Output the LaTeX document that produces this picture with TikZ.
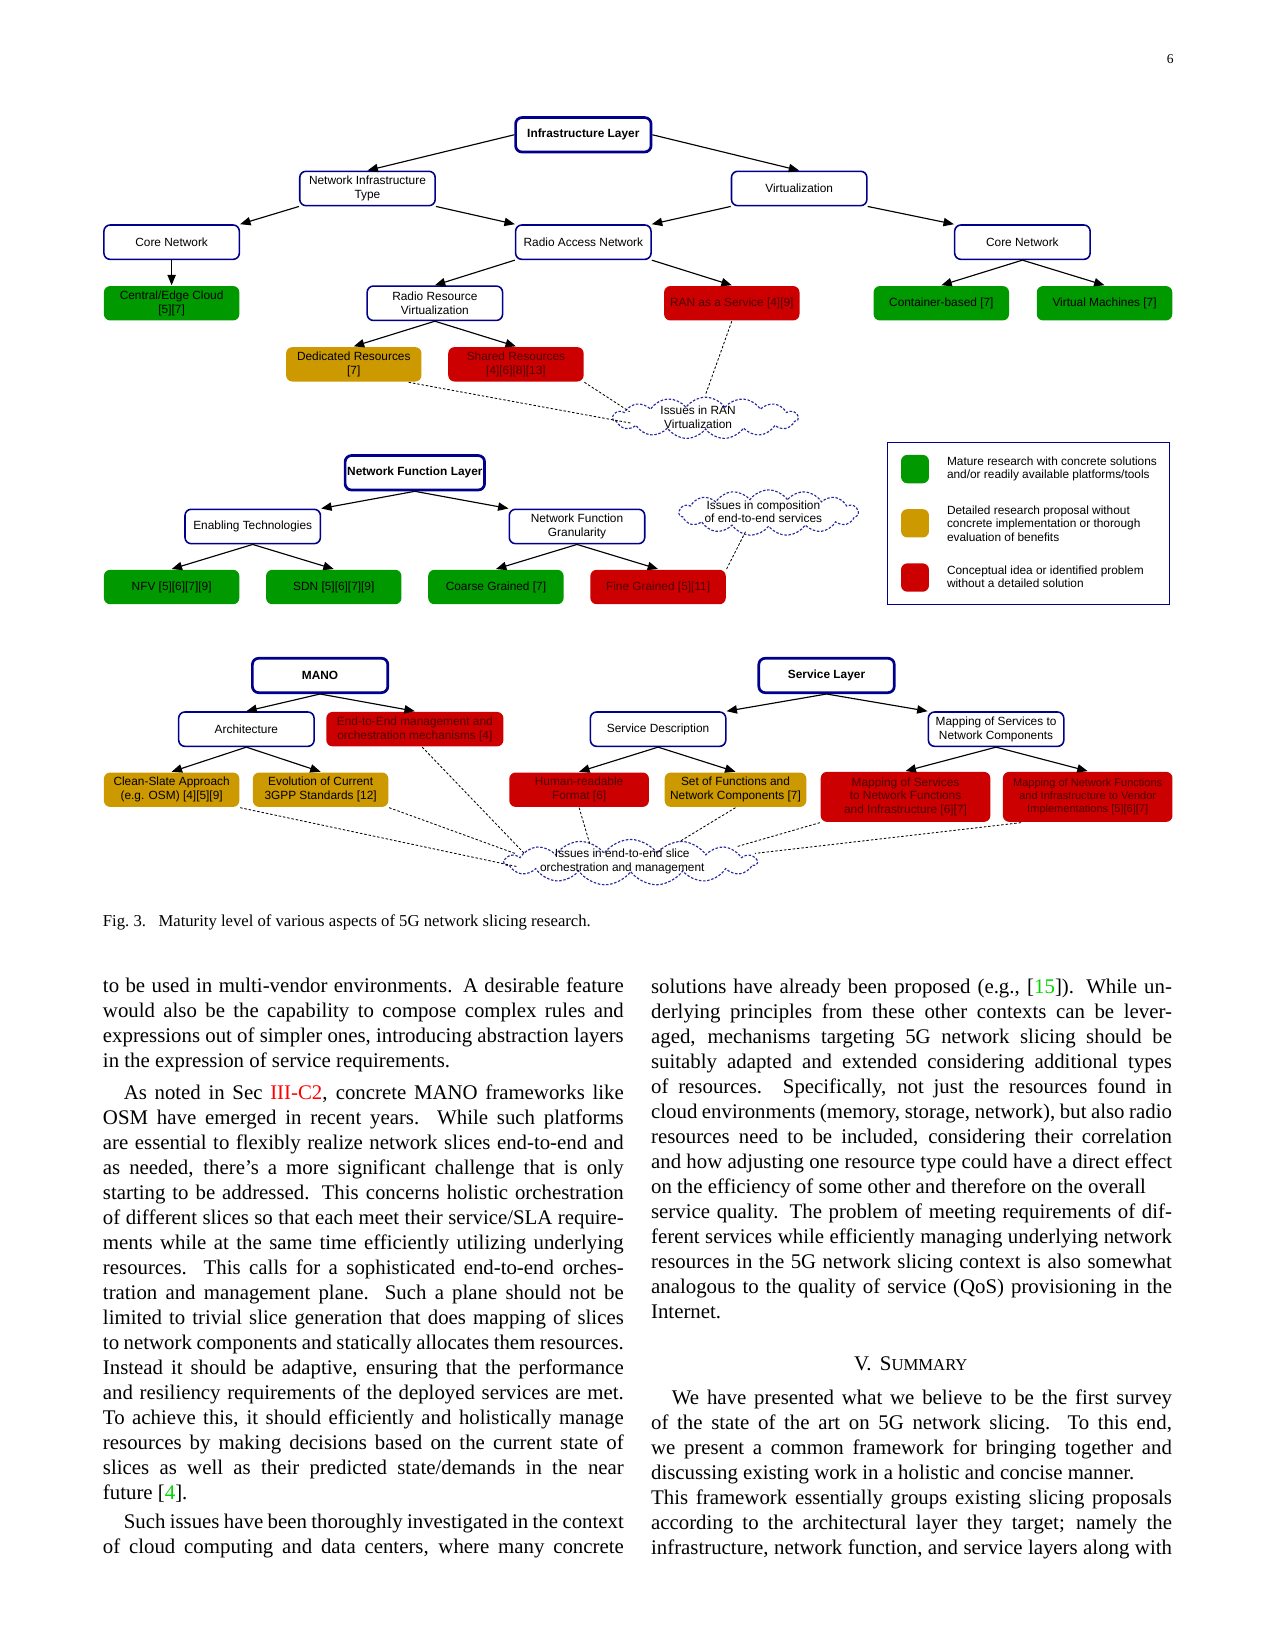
\documentclass[tikz,border=0pt]{standalone}
\usepackage{fontspec}
\setmainfont{Liberation Serif}
\newfontfamily\dsans{Liberation Sans}
\usetikzlibrary{arrows.meta,shapes.symbols,calc}
\definecolor{navyc}{RGB}{0,0,140}
\definecolor{greenc}{RGB}{0,153,0}
\definecolor{yellowc}{RGB}{204,153,0}
\definecolor{redc}{RGB}{204,0,0}
\definecolor{redtxt}{RGB}{80,0,0}
\definecolor{cloudc}{RGB}{40,40,160}
\definecolor{linkred}{RGB}{255,0,0}
\definecolor{linkgreen}{RGB}{0,215,0}
\newcounter{tln}
\newcommand\jline[3]{\stepcounter{tln}\node[txt] (t\arabic{tln}) at (#1,#2) {\hbox to 250pt{#3}};}
\newcommand\nline[3]{\stepcounter{tln}\node[txt] (t\arabic{tln}) at (#1,#2) {#3};}
\begin{document}
\begin{tikzpicture}[x=0.5054pt,y=-0.5054pt,
  box/.style={rectangle, rounded corners=3pt, draw=navyc, line width=0.75pt, fill=white,
    minimum width=65pt, minimum height=16.5pt, inner sep=1pt, align=center,
    font=\dsans\fontsize{5.7}{6.6}\selectfont},
  layer/.style={box, line width=1.3pt, font=\dsans\bfseries\fontsize{5.7}{6.6}\selectfont},
  gbox/.style={box, draw=none, fill=greenc},
  ybox/.style={box, draw=none, fill=yellowc},
  rbox/.style={box, draw=none, fill=redc, text=redtxt},
  arr/.style={-{Triangle[length=5pt,width=4pt]}, line width=0.55pt},
  dl/.style={line width=0.4pt, dash pattern=on 1.2pt off 0.9pt},
  cld/.style={cloud, cloud puffs=15, cloud puff arc=110, cloud ignores aspect, draw=cloudc,
    dash pattern=on 1.2pt off 0.8pt, line width=0.55pt, fill=white, inner sep=0pt},
  cldtxt/.style={inner sep=0pt, align=center, font=\dsans\fontsize{5.7}{6.6}\selectfont},
  lsq/.style={rectangle, rounded corners=3pt, minimum width=13.4pt, minimum height=13.6pt, inner sep=0pt},
  ltx/.style={anchor=west, inner sep=0pt, align=left, font=\dsans\fontsize{5.7}{6.5}\selectfont},
  txt/.style={anchor=base west, inner sep=0pt, font=\fontsize{10}{12}\selectfont}
]
\fill[white] (0,0) rectangle (1211,1568);
\useasboundingbox (0,0) rectangle (1211,1568);

\node[anchor=base east, inner sep=0pt, font=\fontsize{6.5}{7}\selectfont] (pnum) at (1115,60) {6};

% ---------- Infrastructure layer ----------
\node[layer] (il) at (554,128) {Infrastructure Layer};
\node[box] (nit) at (349,179) {Network Infrastructure\\Type};
\node[box] (virt) at (759,179) {Virtualization};
\node[box] (cnl) at (163,230) {Core Network};
\node[box] (ran) at (554,230) {Radio Access Network};
\node[box] (cnr) at (971,230) {Core Network};
\node[gbox] (ce) at (163,288) {Central/Edge Cloud\\{[5][7]}};
\node[box] (rrv) at (413,288) {Radio Resource\\Virtualization};
\node[rbox] (raas) at (695,288) {RAN as a Service [4][9]};
\node[gbox] (cont) at (894,288) {Container-based [7]};
\node[gbox] (vm) at (1049,288) {Virtual Machines [7]};
\node[ybox] (ded) at (336,346) {Dedicated Resources\\{[7]}};
\node[rbox] (shr) at (490,346) {Shared Resources\\{[4][6][8][13]}};
\node[cld, minimum width=89pt, minimum height=20pt] (c1) at (670,397) {};

\draw[arr] (il.west) -- (nit.north);
\draw[arr] (il.east) -- (virt.north);
\draw[arr] (nit.south west) -- (cnl.north east);
\draw[arr] (nit.south east) -- (ran.north west);
\draw[arr] (virt.south west) -- (ran.north east);
\draw[arr] (virt.south east) -- (cnr.north west);
\draw[arr] (cnl.south) -- (ce.north);
\draw[arr] (ran.south west) -- (rrv.north);
\draw[arr] (ran.south east) -- (raas.north);
\draw[arr] (cnr.south) -- (cont.north);
\draw[arr] (cnr.south) -- (vm.north);
\draw[arr] (rrv.south) -- (ded.north);
\draw[arr] (rrv.south) -- (shr.north);

\draw[dl] ($(ded.south)!0.8!(ded.south east)$) -- ($(c1)+(-70,5)$);
\draw[dl] (shr.south east) -- ($(c1)+(-72,-6)$);
\draw[dl] (raas.south) -- ($(c1)+(0,-22)$);
\node[cldtxt] (c1t) at (663,396) {Issues in RAN\\Virtualization};

% ---------- Network function layer ----------
\node[layer] (nfl) at (394,449) {Network Function Layer};
\node[box] (et) at (240,500) {Enabling Technologies};
\node[box] (nfg) at (548,500) {Network Function\\Granularity};
\node[gbox] (nfv) at (163,557.5) {NFV [5][6][7][9]};
\node[gbox] (sdn) at (317,557.5) {SDN [5][6][7][9]};
\node[gbox] (coarse) at (471,557.5) {Coarse Grained [7]};
\node[rbox] (fine) at (625,557.5) {Fine Grained [5][11]};
\node[cld, minimum width=86pt, minimum height=22pt] (c2) at (730,487) {};
\node[cldtxt] (c2t) at (725,486) {Issues in composition\\of end-to-end services};

\draw[arr] (nfl.south) -- (et.north east);
\draw[arr] (nfl.south) -- (nfg.north west);
\draw[arr] (et.south) -- (nfv.north);
\draw[arr] (et.south) -- (sdn.north);
\draw[arr] (nfg.south) -- (coarse.north);
\draw[arr] (nfg.south) -- (fine.north);
\draw[dl] (fine.north east) -- ($(c2)+(-22,18)$);

% ---------- Legend ----------
\node[draw=navyc, line width=0.6pt, minimum width=135.4pt, minimum height=77.8pt, inner sep=0pt] (legend) at (977,497) {};
\node[lsq, fill=greenc] (lg1) at (869,445.5) {};
\node[lsq, fill=yellowc] (lg2) at (869,497) {};
\node[lsq, fill=redc] (lg3) at (869,548.5) {};
\node[ltx] (lt1) at (899,445.5) {Mature research with concrete solutions\\and/or readily available platforms/tools};
\node[ltx] (lt2) at (899,497) {Detailed research proposal without\\concrete implementation or thorough\\evaluation of benefits};
\node[ltx] (lt3) at (899,547.7) {Conceptual idea or identified problem\\without a detailed solution};

% ---------- MANO ----------
\node[layer] (mano) at (304,641.5) {MANO};
\node[box] (arch) at (234,692.5) {Architecture};
\node[rbox, minimum width=85pt] (e2e) at (394,692.5) {End-to-End management and\\orchestration mechanisms [4]};
\node[ybox] (clean) at (163,750) {Clean-Slate Approach\\(e.g. OSM) [4][5][9]};
\node[ybox] (evol) at (304.5,750) {Evolution of Current\\3GPP Standards [12]};
\draw[arr] (mano.south) -- (arch.north);
\draw[arr] (mano.south) -- (e2e.north);
\draw[arr] (arch.south) -- (clean.north);
\draw[arr] (arch.south) -- (evol.north);

% ---------- Service layer ----------
\node[layer] (sl) at (785,641.5) {Service Layer};
\node[box] (sd) at (625,692.5) {Service Description};
\node[box] (msc) at (946,692.5) {Mapping of Services to\\Network Components};
\node[rbox, minimum width=67pt] (hum) at (550,750) {Human-readable\\Format [6]};
\node[ybox, minimum width=68pt] (setf) at (698.5,750) {Set of Functions and\\Network Components [7]};
\node[rbox, minimum width=81.4pt, minimum height=24pt] (msnf) at (860,756.8) {Mapping of Services\\to Network Functions\\and Infrastructure [6][7]};
\node[rbox, minimum width=81.4pt, minimum height=24pt, font=\dsans\fontsize{5.3}{6.3}\selectfont] (mnf) at (1033,756.8) {Mapping of Network Functions\\and Infrastructure to Vendor\\Implementations [5][6][7]};
\draw[arr] (sl.south) -- (sd.north east);
\draw[arr] (sl.south) -- (msc.north west);
\draw[arr] (sd.south) -- (hum.north);
\draw[arr] (sd.south) -- (setf.north);
\draw[arr] (msc.south) -- (msnf.north);
\draw[arr] (msc.south) -- (mnf.north);

\node[cld, minimum width=121pt, minimum height=22pt] (c3) at (599,819) {};
\draw[dl] (clean.south east) -- ($(c3)+(-108,4)$);
\draw[dl] (evol.south east) -- ($(c3)+(-110,-8.5)$);
\draw[dl] ($(e2e.south)+(7,0)$) -- ($(c3)+(-101,-8.5)$);
\draw[dl] (hum.south) -- ($(c3)+(-39,-18)$);
\draw[dl] (setf.south) -- ($(c3)+(46,-19.5)$);
\draw[dl] (msnf.south west) -- ($(c3)+(101,-15)$);
\draw[dl] ($(mnf.south west)+(18,0)$) -- ($(c3)+(118,-8.5)$);
\node[cldtxt] (c3t) at (591,818) {Issues in end-to-end slice\\orchestration and management};

% ---------- Caption ----------
\node[anchor=base west, inner sep=0pt, font=\fontsize{8}{10}\selectfont] (cap) at (97.4,879.6) {Fig.~3.\hskip 6pt Maturity level of various aspects of 5G network slicing research.};

% ---------- Left column ----------
\jline{97.4}{943}{to be used in multi-vendor environments. A desirable feature}
\jline{97.4}{966.7}{would also be the capability to compose complex rules and}
\jline{97.4}{990.5}{expressions out of simpler ones, introducing abstraction layers}
\nline{97.4}{1014.2}{in the expression of service requirements.}
\jline{97.4}{1043.8}{\hskip 10pt As noted in Sec \textcolor{linkred}{III-C2}, concrete MANO frameworks like}
\jline{97.4}{1067.5}{OSM have emerged in recent years. While such platforms}
\jline{97.4}{1091.3}{are essential to flexibly realize network slices end-to-end and}
\jline{97.4}{1115.0}{as needed, there’s a more significant challenge that is only}
\jline{97.4}{1138.8}{starting to be addressed. This concerns holistic orchestration}
\jline{97.4}{1162.5}{of different slices so that each meet their service/SLA require-}
\jline{97.4}{1186.2}{ments while at the same time efficiently utilizing underlying}
\jline{97.4}{1210.0}{resources. This calls for a sophisticated end-to-end orches-}
\jline{97.4}{1233.7}{tration and management plane. Such a plane should not be}
\jline{97.4}{1257.5}{limited to trivial slice generation that does mapping of slices}
\jline{97.4}{1281.2}{to network components and statically allocates them resources.}
\jline{97.4}{1305.0}{Instead it should be adaptive, ensuring that the performance}
\jline{97.4}{1328.7}{and resiliency requirements of the deployed services are met.}
\jline{97.4}{1352.4}{To achieve this, it should efficiently and holistically manage}
\jline{97.4}{1376.2}{resources by making decisions based on the current state of}
\jline{97.4}{1399.9}{slices as well as their predicted state/demands in the near}
\nline{97.4}{1423.7}{future [\textcolor{linkgreen}{4}].}
\jline{97.4}{1451.7}{\hskip 10pt Such issues have been thoroughly investigated in the context}
\jline{97.4}{1475.4}{of cloud computing and data centers, where many concrete}

% ---------- Right column ----------
\jline{618}{943.5}{solutions have already been proposed (e.g., [\textcolor{linkgreen}{15}]). While un-}
\jline{618}{967.2}{derlying principles from these other contexts can be lever-}
\jline{618}{991.0}{aged, mechanisms targeting 5G network slicing should be}
\jline{618}{1014.7}{suitably adapted and extended considering additional types}
\jline{618}{1038.5}{of resources. Specifically, not just the resources found in}
\jline{618}{1062.2}{cloud environments (memory, storage, network), but also radio}
\jline{618}{1085.9}{resources need to be included, considering their correlation}
\jline{618}{1109.7}{and how adjusting one resource type could have a direct effect}
\nline{618}{1133.4}{on the efficiency of some other and therefore on the overall}
\jline{618}{1157.2}{service quality. The problem of meeting requirements of dif-}
\jline{618}{1180.9}{ferent services while efficiently managing underlying network}
\jline{618}{1204.6}{resources in the 5G network slicing context is also somewhat}
\jline{618}{1228.4}{analogous to the quality of service (QoS) provisioning in the}
\nline{618}{1252.1}{Internet.}

\node[anchor=base, inner sep=0pt, font=\fontsize{10}{12}\selectfont] (sumh) at (865,1302) {V.\hskip 4pt S{\fontsize{8}{10}\selectfont UMMARY}};

\jline{618}{1333.6}{\hskip 10pt We have presented what we believe to be the first survey}
\jline{618}{1357.3}{of the state of the art on 5G network slicing. To this end,}
\jline{618}{1381.1}{we present a common framework for bringing together and}
\nline{618}{1404.8}{discussing existing work in a holistic and concise manner.}
\jline{618}{1428.6}{This framework essentially groups existing slicing proposals}
\jline{618}{1452.3}{according to the architectural layer they target; namely the}
\jline{618}{1476.0}{infrastructure, network function, and service layers along with}
\end{tikzpicture}
\end{document}
